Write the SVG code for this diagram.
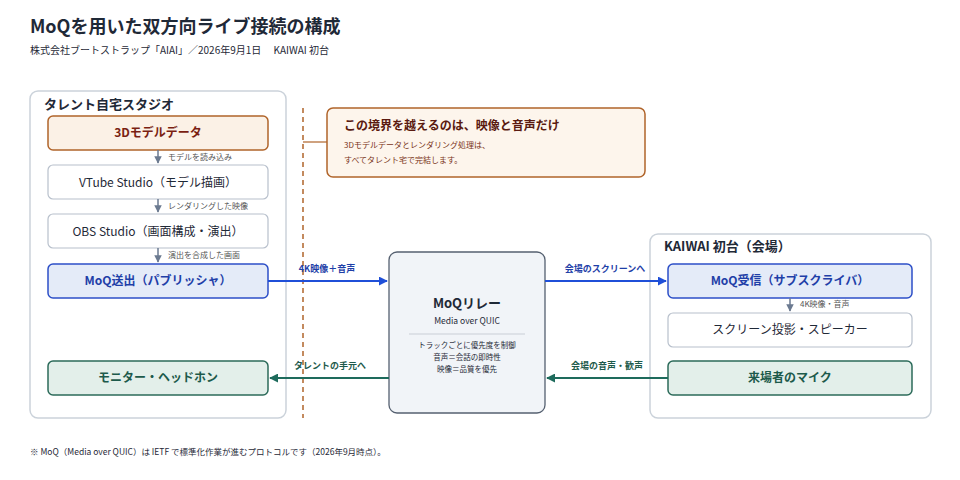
<svg xmlns="http://www.w3.org/2000/svg" width="960" height="480" viewBox="0 0 960 480">
<style>
text{font-family:"Noto Sans CJK JP","Noto Sans",sans-serif;fill:#1f2937}
.b{font-weight:700}
.c{text-anchor:middle}
.zone{fill:#fff;stroke:#cbd2da;stroke-width:1.5}
.plain{fill:#fff;stroke:#b8c0cc;stroke-width:1.2}
.org{fill:#fbf1e6;stroke:#b0642a;stroke-width:1.5}
.blue{fill:#e4ebf8;stroke:#2d4fc7;stroke-width:1.5}
.green{fill:#e3efea;stroke:#2c6b5a;stroke-width:1.5}
.sm{font-size:8px;fill:#555}
</style>
<defs>
<marker id="ag" viewBox="0 0 10 10" refX="9" refY="5" markerWidth="5" markerHeight="5" orient="auto"><path d="M0,0L10,5L0,10z" fill="#6b7a90"/></marker>
<marker id="ab" viewBox="0 0 10 10" refX="9" refY="5" markerWidth="5" markerHeight="5" orient="auto"><path d="M0,0L10,5L0,10z" fill="#1f4fd8"/></marker>
<marker id="at" viewBox="0 0 10 10" refX="9" refY="5" markerWidth="5" markerHeight="5" orient="auto"><path d="M0,0L10,5L0,10z" fill="#1e6b5c"/></marker>
</defs>
<rect width="960" height="480" fill="#fff"/>
<text x="30" y="33" class="b" font-size="18">MoQを用いた双方向ライブ接続の構成</text>
<text x="30" y="54" font-size="10" fill="#444">株式会社ブートストラップ「AIAI」／2026年9月1日　 KAIWAI 初台</text>

<g id="home"><rect class="zone" x="30" y="91" width="256" height="327" rx="8"/><text x="44" y="109" class="b" font-size="13">タレント自宅スタジオ</text></g>
<g id="venue"><rect class="zone" x="650" y="234" width="281" height="184" rx="8"/><text x="664" y="251" class="b" font-size="13">KAIWAI 初台（会場）</text></g>

<g id="model"><rect class="org" x="48" y="116" width="220" height="34" rx="5"/><text x="158" y="137" class="b c" font-size="12" fill="#7a1f12" style="fill:#7a1f12">3Dモデルデータ</text></g>
<g id="vtube"><rect class="plain" x="48" y="165" width="220" height="34" rx="5"/><text x="158" y="187" class="c" font-size="12">VTube Studio（モデル描画）</text></g>
<g id="obs"><rect class="plain" x="48" y="214" width="220" height="34" rx="5"/><text x="158" y="236" class="c" font-size="12">OBS Studio（画面構成・演出）</text></g>
<g id="pub"><rect class="blue" x="48" y="264" width="220" height="34" rx="5"/><text x="158" y="285" class="b c" font-size="12" style="fill:#1f3fa8">MoQ送出（パブリッシャ）</text></g>
<g id="mon"><rect class="green" x="48" y="361" width="220" height="34" rx="5"/><text x="158" y="382" class="b c" font-size="12" style="fill:#1d5a4b">モニター・ヘッドホン</text></g>

<g id="relay"><rect x="389" y="252" width="156" height="161" rx="8" fill="#f1f4f8" stroke="#556070" stroke-width="1.3"/>
<text x="467" y="308" class="b c" font-size="13">MoQリレー</text>
<text x="467" y="324" class="c" font-size="8.5" fill="#444">Media over QUIC</text>
<line x1="409" y1="334" x2="525" y2="334" stroke="#c9ced6"/>
<text x="467" y="348" class="c" font-size="7.5">トラックごとに優先度を制御</text>
<text x="467" y="360" class="c" font-size="7.5">音声＝会話の即時性</text>
<text x="467" y="372" class="c" font-size="7.5">映像＝品質を優先</text></g>

<g id="sub"><rect class="blue" x="668" y="264" width="244" height="34" rx="5"/><text x="790" y="285" class="b c" font-size="12" style="fill:#1f3fa8">MoQ受信（サブスクライバ）</text></g>
<g id="screen"><rect class="plain" x="668" y="313" width="244" height="34" rx="5"/><text x="790" y="334" class="c" font-size="12">スクリーン投影・スピーカー</text></g>
<g id="mic"><rect class="green" x="668" y="361" width="244" height="34" rx="5"/><text x="790" y="382" class="b c" font-size="12" style="fill:#1d5a4b">来場者のマイク</text></g>

<g id="note"><rect x="327" y="108" width="318" height="69" rx="6" fill="#fdf5ec" stroke="#b0642a" stroke-width="1.5"/>
<text x="344" y="130" class="b" font-size="12" style="fill:#5a1a10">この境界を越えるのは、映像と音声だけ</text>
<text x="344" y="148" font-size="8" style="fill:#7a3318">3Dモデルデータとレンダリング処理は、</text>
<text x="344" y="163" font-size="8" style="fill:#7a3318">すべてタレント宅で完結します。</text></g>

<g id="connectors" fill="none">
<line x1="303" y1="108" x2="303" y2="418" stroke="#b0642a" stroke-width="1.5" stroke-dasharray="5,4"/>
<line x1="303" y1="142" x2="327" y2="142" stroke="#b0642a" stroke-width="1.2"/>
<line x1="158" y1="150" x2="158" y2="163" stroke="#6b7a90" stroke-width="1.5" marker-end="url(#ag)"/>
<line x1="158" y1="199" x2="158" y2="212" stroke="#6b7a90" stroke-width="1.5" marker-end="url(#ag)"/>
<line x1="158" y1="248" x2="158" y2="262" stroke="#6b7a90" stroke-width="1.5" marker-end="url(#ag)"/>
<line x1="790" y1="298" x2="790" y2="311" stroke="#6b7a90" stroke-width="1.5" marker-end="url(#ag)"/>
<line x1="268" y1="281" x2="387" y2="281" stroke="#1f4fd8" stroke-width="1.8" marker-end="url(#ab)"/>
<line x1="545" y1="281" x2="666" y2="281" stroke="#1f4fd8" stroke-width="1.8" marker-end="url(#ab)"/>
<line x1="668" y1="378" x2="547" y2="378" stroke="#1e6b5c" stroke-width="1.8" marker-end="url(#at)"/>
<line x1="389" y1="378" x2="270" y2="378" stroke="#1e6b5c" stroke-width="1.8" marker-end="url(#at)"/>
</g>
<text x="168" y="160" class="sm">モデルを読み込み</text>
<text x="168" y="209" class="sm">レンダリングした映像</text>
<text x="168" y="258" class="sm">演出を合成した画面</text>
<text x="800" y="307" class="sm">4K映像・音声</text>
<text x="327" y="272" class="b c" font-size="9" style="fill:#1f3fa8">4K映像＋音声</text>
<text x="605" y="272" class="b c" font-size="9" style="fill:#1f3fa8">会場のスクリーンへ</text>
<text x="330" y="369" class="b c" font-size="9" style="fill:#1d5a4b">タレントの手元へ</text>
<text x="607" y="369" class="b c" font-size="9" style="fill:#1d5a4b">会場の音声・歓声</text>
<text x="30" y="455" font-size="8.5" fill="#444">※ MoQ（Media over QUIC）は IETF で標準化作業が進むプロトコルです（2026年9月時点）。</text>
</svg>
